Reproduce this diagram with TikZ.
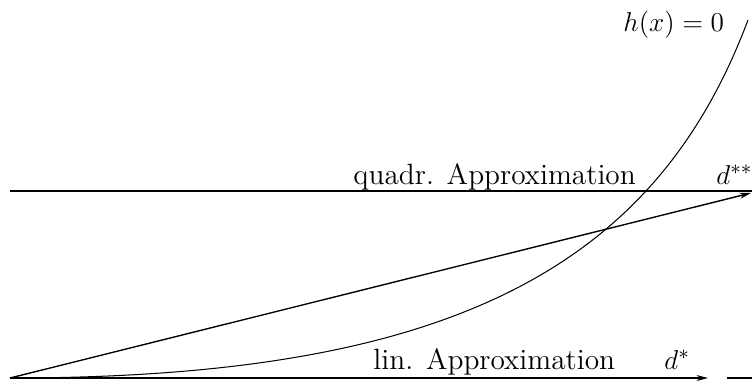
\documentclass[tikz,border=0pt]{standalone}
\usetikzlibrary{arrows.meta}
\begin{document}
\begin{tikzpicture}[x={(0.44pt,0)},y={(0,-0.44pt)},
  lbl/.style={inner sep=0pt,font=\fontsize{12.9}{15}\selectfont},
  tip/.style={-{Stealth[length=5pt,width=2.6pt,inset=1.5pt]}},
  thickline/.style={line width=0.9pt},
  thinline/.style={line width=0.45pt}]
\useasboundingbox (0,0) rectangle (752,385);
\coordinate (O) at (10,378);
\coordinate (Qs) at (10,191);
\coordinate (Qe) at (752,191);
\coordinate (D2) at (751,193);
\coordinate (D1) at (708,378);
\coordinate (Ss) at (727,378);
\coordinate (Se) at (752,378);
\coordinate (Ce) at (748,20);
% horizontal quadratic line
\draw[thickline] (Qs) -- (Qe);
% diagonal arrow
\draw[line width=0.6pt,tip] (O) -- (D2);
% linear arrow
\draw[thinline,tip] (O) -- (D1);
\draw[thickline] (Ss) -- (Se);
% constraint curve
\draw[thinline] (O) .. controls (450,378) and (655,268) .. (Ce);
% labels
\node[lbl,anchor=base west] (qa) at (353,184) {quadr. Approximation};
\node[lbl,anchor=base west] (d2) at (716,184) {$d^{**}$};
\node[lbl,anchor=base west] (la) at (373,369) {lin. Approximation};
\node[lbl,anchor=base west] (d1) at (664,369) {$d^{*}$};
\node[lbl,anchor=base west] (hx) at (623,31) {$h(x)=0$};
\end{tikzpicture}
\end{document}
